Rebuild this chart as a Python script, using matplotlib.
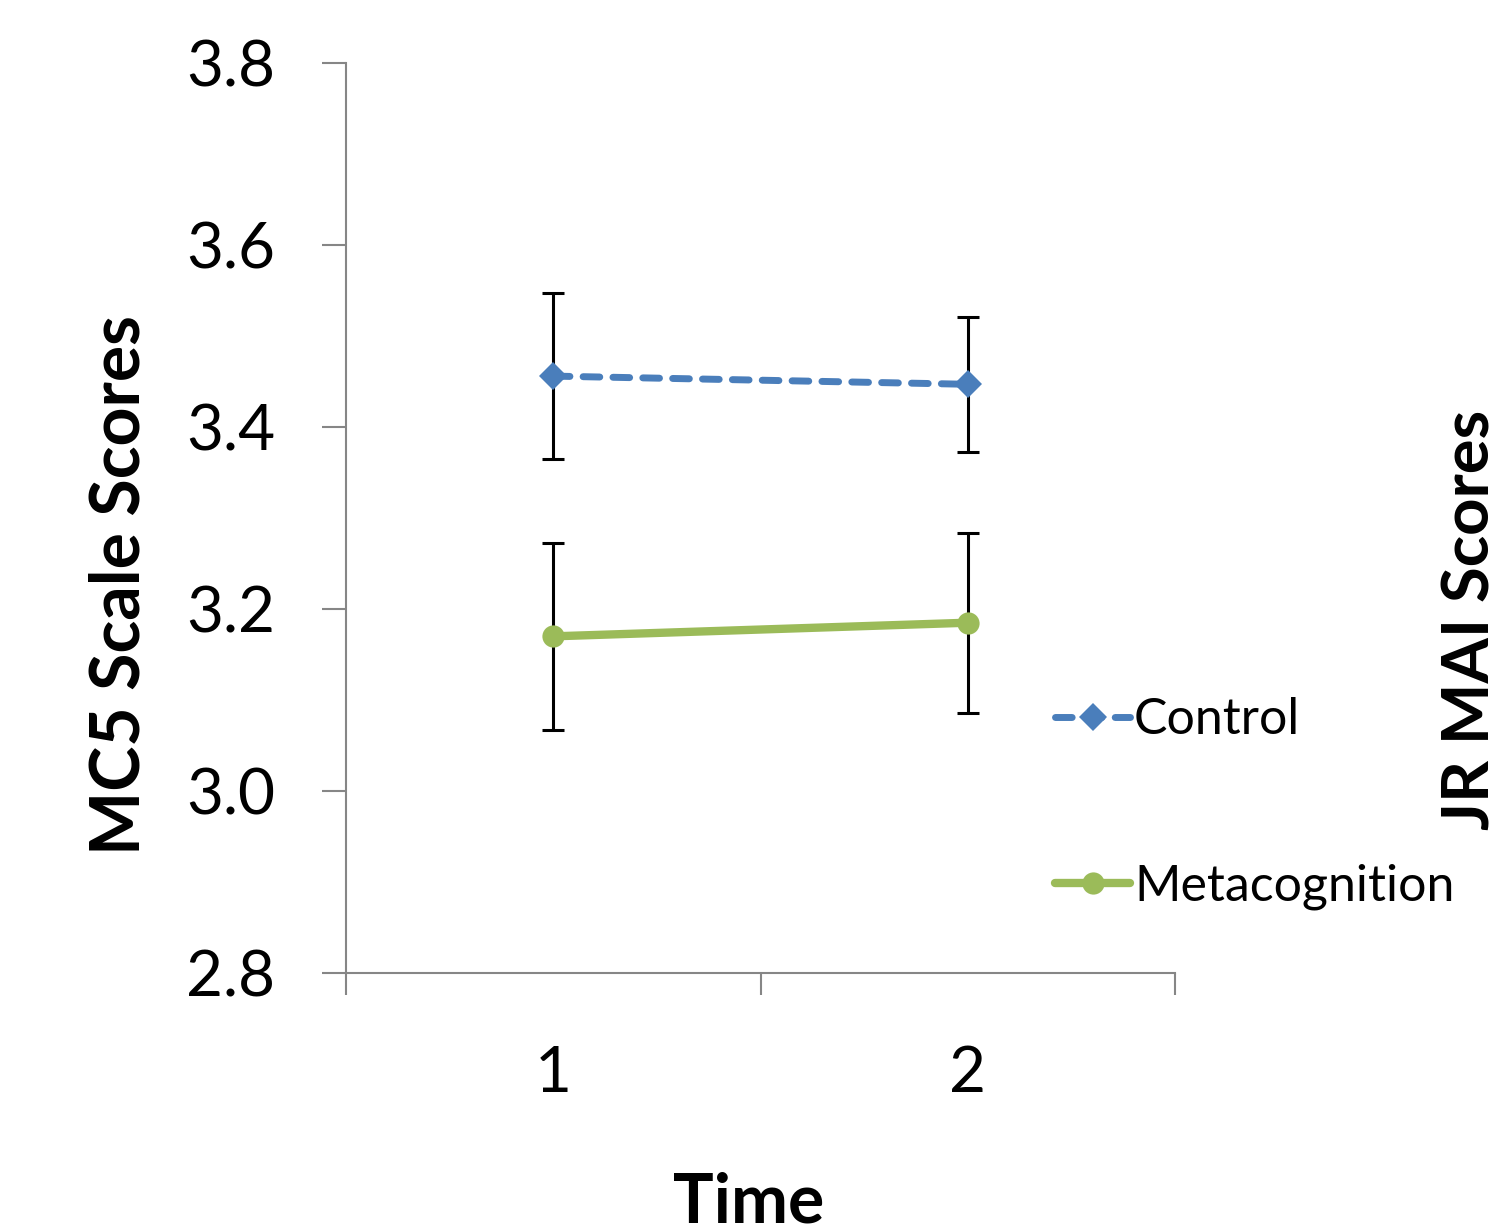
import matplotlib.pyplot as plt

plt.rcParams['font.family'] = ['Lato', 'DejaVu Sans']

# data
times = [1, 2]
control = [3.456, 3.447]
control_err = [0.091, 0.074]
meta = [3.170, 3.185]
meta_err = [0.103, 0.099]
yticks = [2.8, 3.0, 3.2, 3.4, 3.6, 3.8]

blue = '#4a7ebb'
green = '#9bbb59'
grey = '#868686'

fig = plt.figure(figsize=(15.03, 12.32), dpi=100)
ax = fig.add_axes([0.2302, 0.2102, 0.5516, 0.7386])

ax.errorbar(times, control, yerr=control_err, fmt='none', ecolor='black',
            elinewidth=2.2, capsize=8, capthick=2.2, zorder=2)
ax.errorbar(times, meta, yerr=meta_err, fmt='none', ecolor='black',
            elinewidth=2.2, capsize=8, capthick=2.2, zorder=2)

ax.plot(times, control, color=blue, lw=5, linestyle=(0, (2.4, 1.9)),
        dash_capstyle='round', marker='D', markersize=14, markeredgewidth=0,
        label='Control', zorder=3)
ax.plot(times, meta, color=green, lw=6, solid_capstyle='round',
        marker='o', markersize=16, markeredgewidth=0,
        label='Metacognition', zorder=3)

ax.set_xlim(0.5, 2.5)
ax.set_ylim(2.8, 3.8)
ax.set_xticks([0.5, 1.5, 2.5])
ax.set_xticklabels([])
ax.set_xticks(times, minor=True)
ax.set_xticklabels([str(t) for t in times], minor=True)
ax.tick_params(axis='x', which='minor', length=0, pad=52, labelsize=46)
ax.tick_params(axis='x', which='major', length=16, width=1.5, color=grey, direction='out')
ax.set_yticks(yticks)
ax.set_yticklabels([f'{v:.1f}' for v in yticks])
ax.tick_params(axis='y', length=17, width=1.5, color=grey, direction='out',
               labelsize=46, pad=34)

for s in ['top', 'right']:
    ax.spines[s].set_visible(False)
for s in ['left', 'bottom']:
    ax.spines[s].set_color(grey)
    ax.spines[s].set_linewidth(1.5)

ax.set_ylabel('MC5 Scale Scores', fontsize=49, fontweight='bold',
              va='center', ha='center')
ax.yaxis.set_label_coords(-0.272, 0.426)

fig.text(0.498, 0.008, 'Time', fontsize=49, fontweight='bold',
         ha='center', va='baseline')
fig.text(0.979, 0.497, 'JR MAI Scores', rotation=90, fontsize=47,
         fontweight='bold', ha='center', va='center')

handles, labels = ax.get_legend_handles_labels()
fig.legend(handles, labels, loc='center left', bbox_to_anchor=(0.672, 0.348),
           frameon=False, fontsize=36, labelspacing=2.4, handlelength=1.5,
           handletextpad=0.08)

fig.savefig('out.png', dpi=100)
